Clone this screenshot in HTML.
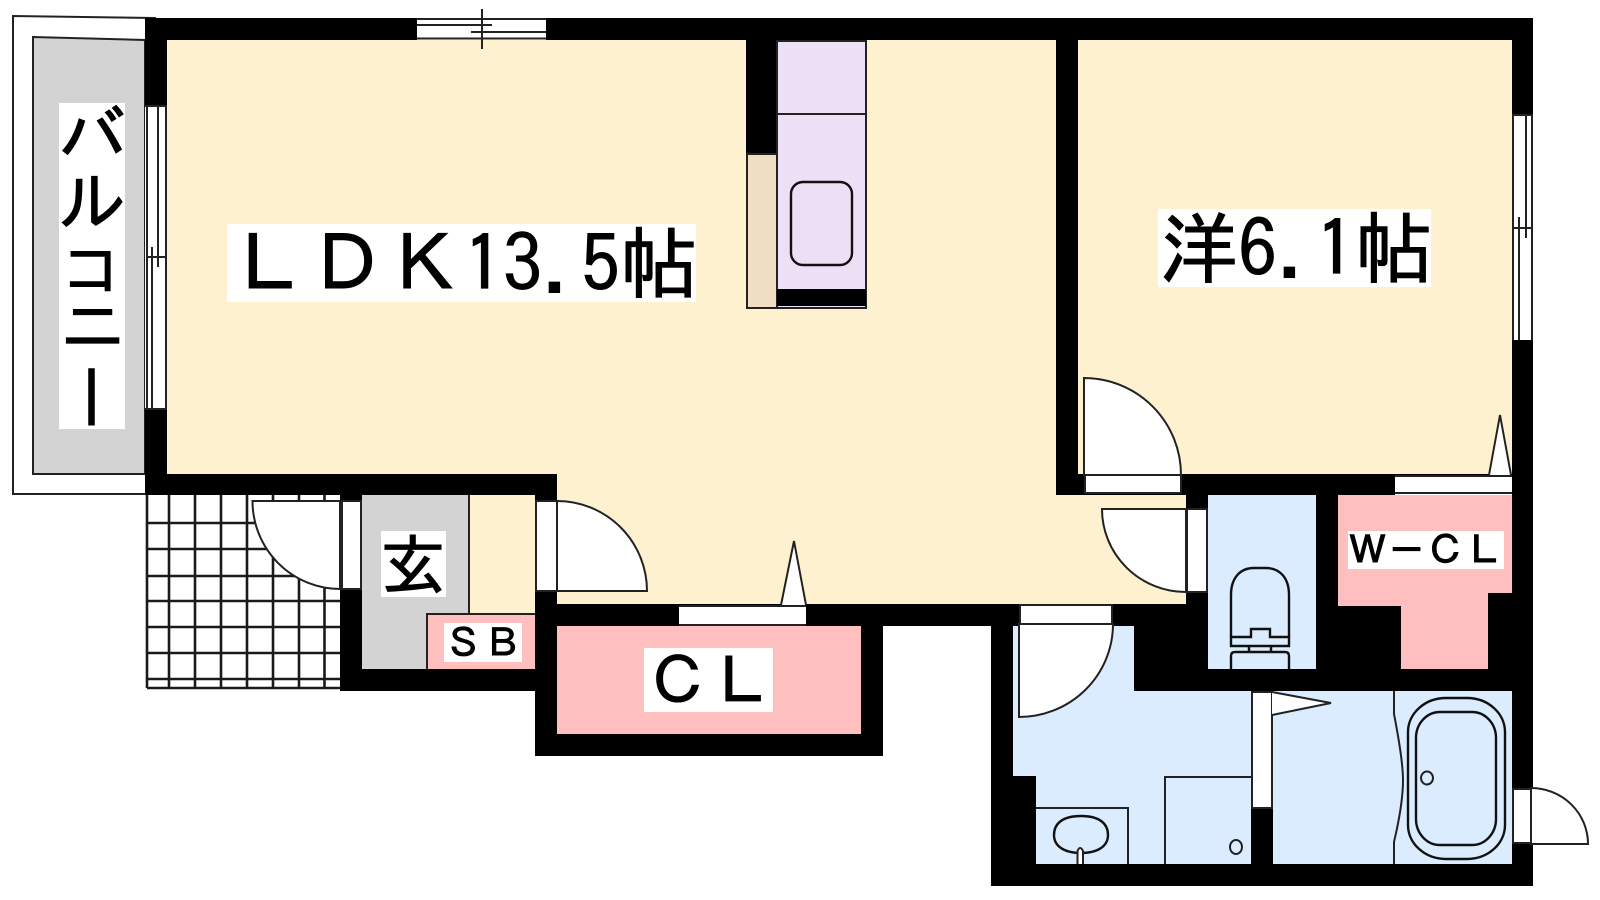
<!DOCTYPE html>
<html lang="ja">
<head>
<meta charset="utf-8">
<title>間取り図</title>
<style>
html,body{margin:0;padding:0;background:#fff;}
svg{display:block;}
text{font-family:"IPAGothic","Liberation Sans","Noto Sans CJK JP",sans-serif;fill:#000;stroke:#000;stroke-width:1;}
.l{fill:none;stroke:#222;stroke-width:2;}
.g{fill:none;stroke:#1a1a1a;stroke-width:2.6;}
.w{fill:#fff;stroke:#222;stroke-width:2;}
.p{fill:none;stroke:#111;stroke-width:2.4;}
</style>
</head>
<body>
<svg width="1600" height="900" viewBox="0 0 1600 900" xmlns="http://www.w3.org/2000/svg">
<rect width="1600" height="900" fill="#fff"/>

<!-- balcony -->
<path class="w" d="M145,494 H13 V16 L156,18"/>
<path d="M145,474 H33 V37 L145,40 Z" fill="#d3d3d3" stroke="#222" stroke-width="2"/>

<!-- entrance tile grid -->
<g class="g">
<path d="M147,495V688M169,495V688M195,495V688M221,495V688M247,495V688M273,495V688M299,495V688M324.5,495V688"/>
<path d="M147,523H340M147,549H340M147,576H340M147,601H340M147,627H340M147,653H340M147,679H340M147,688H340"/>
</g>

<!-- walls -->
<path d="M145,18 H1533 V886 H991 V626 H883 V756 H535 V691 H340 V495 H145 Z" fill="#000"/>

<!-- rooms -->
<path d="M167,40 H1056 V495 H1186 V604 H557 V474 H167 Z" fill="#fef1d0"/>
<rect x="469" y="495" width="66" height="119" fill="#fef1d0"/>
<rect x="1078" y="40" width="434" height="434" fill="#fef1d0"/>
<rect x="362" y="495" width="107" height="174" fill="#d3d3d3"/>
<path d="M469,495V614" class="l"/>
<path d="M427,669 V614 H535 V669 Z" fill="#ffbfbf"/>
<path d="M427,669 V614 H535" class="l"/>
<rect x="557" y="626" width="304" height="108" fill="#ffbfbf"/>
<path d="M1338,495 H1512 V593 H1488 V669 H1401 V606 H1338 Z" fill="#ffbfbf"/>
<rect x="1208" y="495" width="108" height="174" fill="#dbecff"/>
<path d="M1013,626 H1134 V691 H1512 V864 H1036 V776 H1013 Z" fill="#dbecff"/>

<!-- kitchen -->
<rect x="746" y="40" width="31" height="114" fill="#000"/>
<rect x="747" y="154" width="30" height="154" fill="#f0dfc5" stroke="#222" stroke-width="2"/>
<rect x="777" y="41" width="89" height="267" fill="#eddff5" stroke="#222" stroke-width="2"/>
<path class="l" d="M777,114H866"/>
<rect x="777" y="289" width="89" height="17" fill="#000"/>
<rect x="791" y="182" width="61" height="83" rx="12" fill="none" stroke="#111" stroke-width="2.4"/>

<!-- top window -->
<rect x="417" y="18" width="129" height="22" fill="#fff"/>
<path class="l" d="M417,19H546M417,25H492M471,32H546M417,38.5H546M482,9V49"/>

<!-- left window -->
<rect x="145" y="106" width="22" height="303" fill="#fff"/>
<path class="l" d="M147,106V409M158,106V267M152,247V409M166,106V409M147,257H166M145,106H167M145,409H167"/>

<!-- right window -->
<rect x="1512" y="115" width="21" height="225" fill="#fff"/>
<path class="l" d="M1513,115V340M1526,115V238M1519,217V340M1532,115V340M1513,228H1532M1512,115H1533"/>

<!-- entrance door -->
<rect class="w" x="342" y="501" width="19" height="88"/>
<path class="w" d="M252.5,501 H340 V589 A88,88 0 0 1 252.5,501 Z"/>

<!-- door to LDK -->
<rect class="w" x="536" y="501" width="21" height="90"/>
<path class="w" d="M557,501 V591 H647 A90,90 0 0 0 557,501 Z"/>

<!-- CL sliding door -->
<rect x="679" y="605" width="127" height="21" fill="#fff"/>
<path class="l" d="M679,606H806M679,625H806"/>
<path class="w" d="M781,605 L794,541 L806,605"/>

<!-- western door -->
<rect class="w" x="1085" y="475" width="96" height="18"/>
<path class="w" d="M1084,475 V378 A97,97 0 0 1 1181,475 Z"/>

<!-- WCL door -->
<rect x="1395" y="475" width="117" height="20" fill="#fff"/>
<path class="l" d="M1395,476H1512M1395,493H1512"/>
<path class="w" d="M1489,475 L1500,415 L1511,475"/>

<!-- toilet door -->
<rect class="w" x="1187" y="509" width="20" height="83"/>
<path class="w" d="M1102,509 H1186 V592 A84,83 0 0 1 1102,509 Z"/>

<!-- wash door -->
<rect class="w" x="1020" y="605" width="92" height="19"/>
<path class="w" d="M1019,624 V717 A94,93 0 0 0 1113,624 Z"/>

<!-- partition -->
<rect x="1251" y="692" width="22" height="172" fill="#000"/>
<rect class="w" x="1252" y="692" width="20" height="116"/>
<path class="w" d="M1272,692 L1331,703 L1272,715"/>

<!-- washer -->
<path class="l" d="M1165,864V777H1251"/>
<ellipse class="l" cx="1236" cy="847" rx="6" ry="7"/>

<!-- sink -->
<path class="l" d="M1036,808H1128V864"/>
<path class="p" d="M1081,816 C1100,816 1108,824 1108,835 C1108,846 1098,853 1081,853 C1064,853 1054,846 1054,835 C1054,824 1062,816 1081,816 Z"/>
<path class="w" d="M1077.5,864 V851 Q1080,845 1083,851 V864"/>

<!-- toilet -->
<path class="p" d="M1231,637 V595 C1231,578 1240,568 1254,568 H1266 C1280,568 1289,578 1289,595 V637"/>
<path class="p" d="M1231,637 H1251 V629 H1270 V637 H1289 V646 H1231 Z"/>
<path class="p" d="M1249,646 V652 M1271,646 V652"/>
<path class="p" d="M1231,669 V656 Q1231,652 1235,652 H1285 Q1289,652 1289,656 V669"/>

<!-- bath -->
<path class="l" d="M1394,691 V714 C1400,745 1403,765 1403,780 C1403,800 1398,825 1394,842 V864"/>
<rect class="p" x="1408" y="698" width="97" height="161" rx="38" ry="34"/>
<rect class="p" x="1416" y="712" width="80" height="133" rx="24" ry="26"/>
<ellipse class="l" cx="1427" cy="778" rx="6" ry="6.5"/>

<!-- exterior door -->
<rect class="w" x="1513" y="789" width="18" height="54"/>
<path class="w" d="M1531,788 V844 H1588 A57,56 0 0 0 1531,788 Z"/>

<!-- labels -->
<rect x="227" y="224" width="469" height="78" fill="#fff"/>
<text x="230" y="292" font-size="78" xml:space="preserve">ＬＤＫ13.5帖</text>

<rect x="1158" y="209" width="273" height="78" fill="#fff"/>
<text x="1160" y="277" font-size="78">洋6.1帖</text>

<rect x="59" y="103" width="66" height="326" fill="#fff"/>
<text x="58.5" y="160.5" font-size="68">バ</text>
<text x="58.5" y="226" font-size="68">ル</text>
<text x="61" y="292" font-size="62">コ</text>
<text x="59.5" y="350" font-size="66">ニ</text>
<text x="91.5" y="361.5" font-size="69" writing-mode="vertical-rl" text-anchor="start">ー</text>

<rect x="381" y="531" width="65" height="66" fill="#fff"/>
<text x="380" y="589" font-size="66">玄</text>

<rect x="444" y="623" width="78" height="39" fill="#fff"/>
<text x="444" y="657" font-size="39">ＳＢ</text>

<rect x="644" y="648" width="129" height="64" fill="#fff"/>
<text x="646" y="704" font-size="64">ＣＬ</text>

<rect x="1348" y="531" width="156" height="38" fill="#fff"/>
<text x="1348" y="564" font-size="39">Ｗ－ＣＬ</text>
</svg>
</body>
</html>
